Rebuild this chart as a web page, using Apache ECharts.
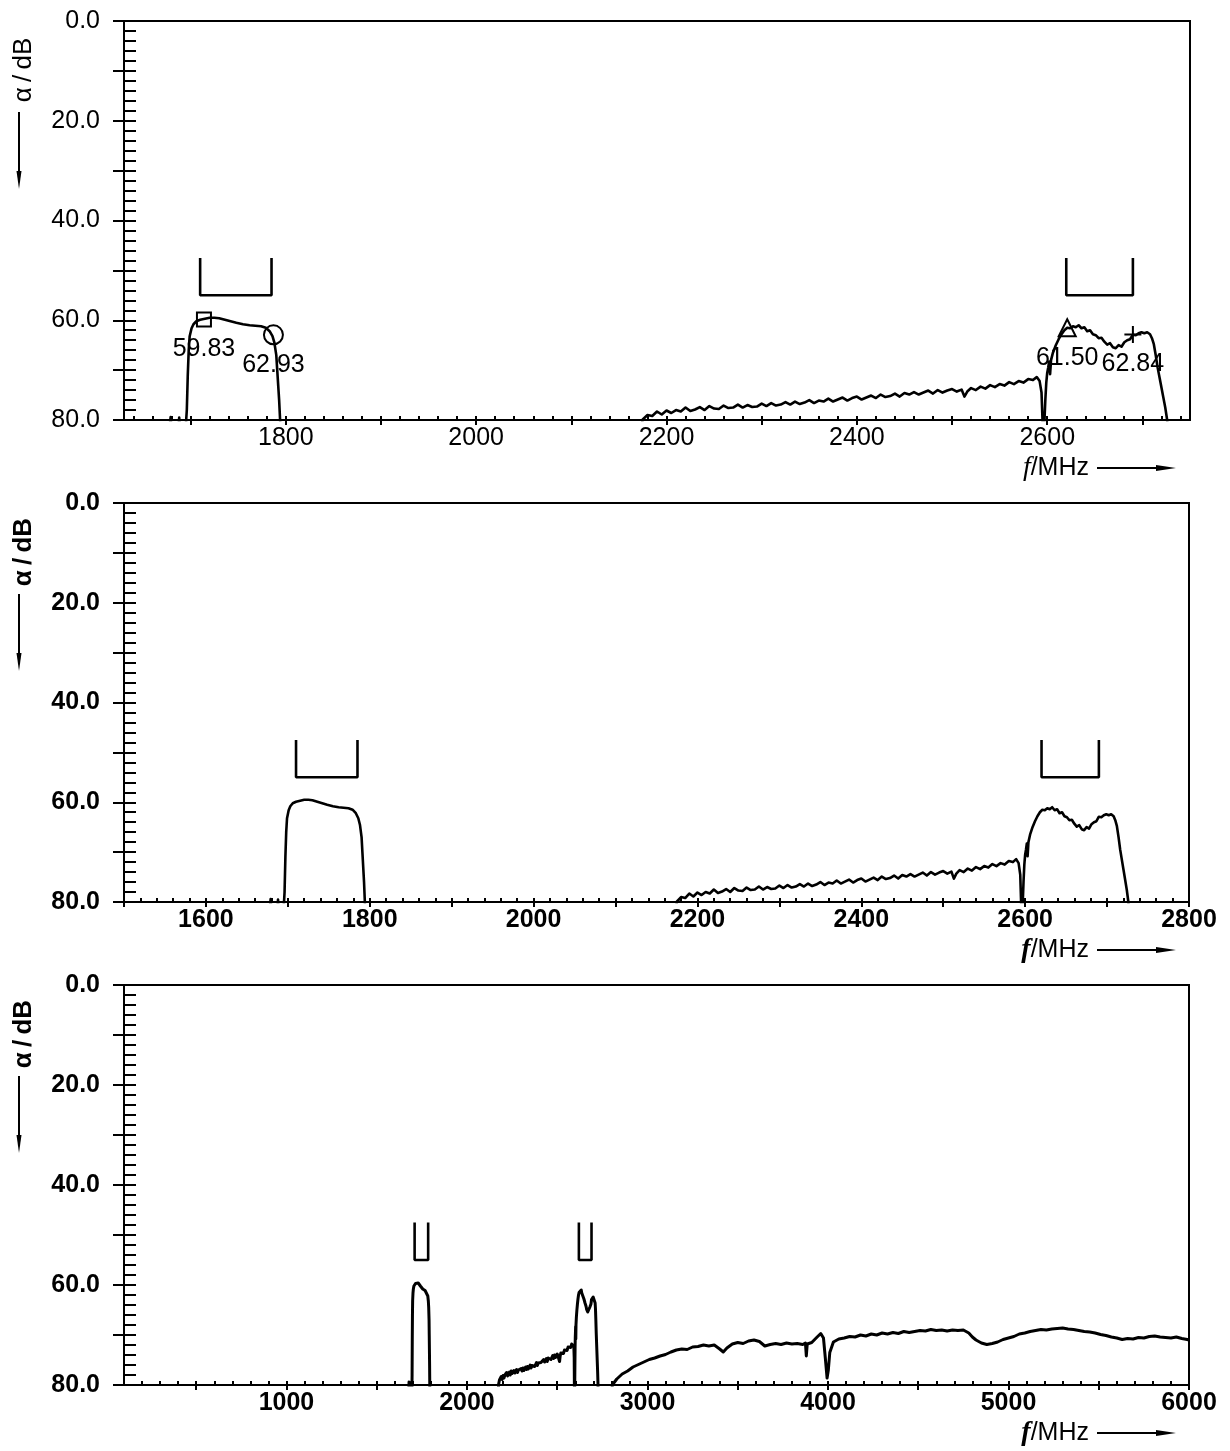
<!DOCTYPE html>
<html><head><meta charset="utf-8">
<script src="https://cdn.jsdelivr.net/npm/echarts@6/dist/echarts.min.js"></script>
<style>html,body{margin:0;padding:0;background:#fff}#c{width:1230px;height:1451px}</style>
</head><body><div id="c"></div>
<script>
// ---------- tick labels ----------
const yTickLabels = [0, 20, 40, 60, 80];
const topXLabels = [1800, 2000, 2200, 2400, 2600];
const midXLabels = [1600, 1800, 2000, 2200, 2400, 2600, 2800];
const botXLabels = [1000, 2000, 3000, 4000, 5000, 6000];

// ---------- measured trace (f / MHz, attenuation / dB) ----------
const dcsPass = [[1676,85],[1679,79.4],[1681,85],[1686,85],[1688,79.5],[1690,85],[1694,84],[1696,78],[1697,71],[1698,66],[1699,63.2],[1701,61.6],[1703,60.8],[1706,60.2],[1710,59.9],[1715,59.7],[1720,59.5],[1725,59.5],[1730,59.6],[1736,59.9],[1742,60.2],[1748,60.5],[1755,60.8],[1762,61.0],[1768,61.1],[1774,61.2],[1779,61.5],[1783,62.2],[1786,63.2],[1788,64.5],[1790,67],[1791,70],[1793,76],[1794,80],[1796,86]];

const spurRamp = [[2170,85],[2175,79.9],[2180,79.0],[2185,79.2],[2190,78.3],[2195,78.9],[2200,78.1],[2205,78.6],[2210,78.0],[2215,78.3],[2220,77.5],[2225,78.2],[2230,77.9],[2235,77.4],[2240,78.0],[2245,77.2],[2250,77.7],[2255,77.8],[2260,77.1],[2265,77.6],[2270,77.5],[2275,76.9],[2280,77.5],[2285,77.0],[2290,77.4],[2295,77.3],[2300,76.7],[2305,77.2],[2310,76.6],[2315,77.1],[2320,76.9],[2325,76.4],[2330,76.9],[2335,76.3],[2340,76.8],[2345,76.5],[2350,76.0],[2355,76.6],[2360,76.1],[2365,76.3],[2370,75.7],[2375,76.3],[2380,75.9],[2385,75.5],[2390,76.1],[2395,75.6],[2400,75.3],[2405,75.9],[2410,75.5],[2415,75.1],[2420,75.6],[2425,74.9],[2430,75.4],[2435,75.2],[2440,74.7],[2445,75.3],[2450,74.6],[2455,74.9],[2460,74.4],[2465,74.9],[2470,74.5],[2475,74.1],[2480,74.7],[2485,74.0],[2490,74.5],[2495,74.1],[2500,73.8],[2505,74.3],[2510,73.9],[2513,75.3],[2516,74.3],[2520,73.6],[2525,74.0],[2530,73.3],[2535,73.7],[2540,73.0],[2545,73.4],[2550,72.8],[2555,73.1],[2560,72.4],[2565,72.8],[2570,72.2],[2575,72.5],[2580,71.8],[2585,72.0],[2589,71.4],[2592,72.2],[2594,74.5]];

const ltePass = [[2596,85],[2598,76],[2599,72.5],[2600,70.5],[2601,69.5],[2602,68.3],[2603,70.8],[2604,68],[2606,66.5],[2609,65],[2612,63.8],[2615,62.8],[2618,62.0],[2621,61.5],[2624,61.6],[2627,61.2],[2630,61.4],[2633,61.0],[2636,61.6],[2639,61.4],[2642,62.2],[2645,62.0],[2648,62.8],[2651,63.0],[2654,63.6],[2657,63.5],[2660,64.3],[2663,64.9],[2666,64.6],[2669,65.4],[2672,65.6],[2675,65.0],[2678,65.3],[2681,64.4],[2684,64.0],[2687,63.8],[2690,62.9],[2693,63.0],[2696,62.6],[2699,62.4],[2702,62.6],[2705,62.4],[2708,62.8],[2710,63.6],[2712,64.8],[2714,67],[2716,69.5],[2718,71.5],[2720,73.5],[2722,75.5],[2724,77.5],[2726,80],[2728,86]];

const wideSweep = [[2800,85],[2805,80],[2830,78.8],[2860,77.8],[2890,77.2],[2920,76.4],[2950,75.9],[2980,75.4],[3010,74.9],[3040,74.6],[3070,74.2],[3100,73.9],[3130,73.4],[3160,73.0],[3190,72.8],[3220,72.9],[3250,72.4],[3280,72.3],[3310,72.0],[3340,72.2],[3370,72.0],[3400,72.8],[3420,73.4],[3440,72.6],[3470,71.8],[3500,71.5],[3530,71.7],[3560,71.2],[3590,71.0],[3620,71.3],[3650,72.2],[3680,71.9],[3710,71.7],[3740,71.9],[3770,71.6],[3800,71.8],[3830,71.7],[3860,71.9],[3875,71.6],[3880,74.2],[3885,71.8],[3910,71.5],[3940,70.4],[3960,69.7],[3975,70.6],[3985,74.5],[3995,78.6],[4002,77.0],[4010,73.5],[4030,71.4],[4060,70.8],[4090,70.6],[4120,70.3],[4150,70.4],[4180,70.0],[4210,70.2],[4240,69.8],[4270,70.0],[4300,69.6],[4330,69.8],[4360,69.5],[4390,69.7],[4420,69.3],[4450,69.5],[4480,69.3],[4510,69.1],[4540,69.2],[4570,68.9],[4600,69.1],[4630,69.0],[4660,69.2],[4690,69.0],[4720,69.1],[4750,69.0],[4780,69.6],[4800,70.4],[4820,71.0],[4850,71.6],[4880,71.9],[4910,71.7],[4940,71.4],[4970,70.9],[5000,70.6],[5030,70.3],[5060,69.8],[5090,69.6],[5120,69.3],[5150,69.1],[5180,68.9],[5210,69.0],[5240,68.8],[5270,68.7],[5300,68.6],[5330,68.8],[5360,68.9],[5390,69.1],[5420,69.3],[5450,69.4],[5480,69.6],[5510,69.9],[5540,70.1],[5570,70.4],[5600,70.6],[5630,70.9],[5660,70.7],[5690,70.8],[5720,70.5],[5750,70.6],[5780,70.3],[5810,70.2],[5840,70.4],[5870,70.5],[5900,70.6],[5930,70.4],[5960,70.7],[5990,70.9],[6000,71.0]];

// ---------- band brackets ----------
const bandDCS = [1710, 1785];
const bandLTE = [2620, 2690];
const bracketDb = [47.5, 55];

// ---------- markers ----------
const markerFreq = [1714, 1787, 2621, 2690];
const markerDb = [59.83, 62.93, 61.50, 62.84];
const markerLabels = ['59.83', '62.93', '61.50', '62.84'];
const markerSymbols = ['rect', 'circle', 'triangle', 'path://M0,5L10,5M5,0L5,10'];

// ---------- build ----------
function steps(a, b, s) { const r = []; for (let v = a; v <= b + 1e-9; v += s) r.push(v); return r; }
const FONT = 'Liberation Sans';
const panels = [
  { grid: {left:124, top:21, width:1066, height:399}, range:[1630,2750], major:steps(1700,2700,100), minor:steps(1640,2740,20), labels: topXLabels, bold:false, extra:false, markers:true },
  { grid: {left:124, top:503, width:1065, height:399}, range:[1500,2800], major:steps(1500,2800,100), minor:steps(1500,2800,20), labels: midXLabels, bold:true, extra:false, markers:false },
  { grid: {left:124, top:985, width:1065, height:400}, range:[100,6000], major:steps(500,6000,500), minor:steps(200,6000,100), labels: botXLabels, bold:true, extra:true, markers:false }
];

const grid = [], xAxis = [], yAxis = [], series = [], graphic = [];
const black = '#000';
panels.forEach((p, i) => {
  grid.push(Object.assign({ show:true, borderColor:black, borderWidth:2, backgroundColor:'transparent' }, p.grid));
  const fw = p.bold ? 'bold' : 'normal';
  xAxis.push({ type:'value', gridIndex:i, position:'bottom', min:p.range[0], max:p.range[1],
    axisLine:{show:true, onZero:false, lineStyle:{color:black, width:2}},
    axisTick:{show:true, inside:false, length:5, customValues:p.major, lineStyle:{color:black, width:2}},
    axisLabel:{show:true, customValues:p.labels, formatter:v => String(v), margin:6, color:black, fontSize:25, fontFamily:FONT, fontWeight:fw},
    splitLine:{show:false} });
  xAxis.push({ type:'value', gridIndex:i, position:'bottom', min:p.range[0], max:p.range[1],
    axisLine:{show:false, onZero:false},
    axisTick:{show:true, inside:true, length:4, customValues:p.minor, lineStyle:{color:black, width:2}},
    axisLabel:{show:false}, splitLine:{show:false} });
  yAxis.push({ type:'value', gridIndex:i, position:'left', inverse:true, min:0, max:80,
    axisLine:{show:true, onZero:false, lineStyle:{color:black, width:2}},
    axisTick:{show:true, inside:false, length:11, customValues:steps(0,80,10), lineStyle:{color:black, width:2}},
    axisLabel:{show:true, customValues:yTickLabels, formatter:v => Number(v).toFixed(1), margin:24, color:black, fontSize:25, fontFamily:FONT, fontWeight:fw},
    splitLine:{show:false} });
  yAxis.push({ type:'value', gridIndex:i, position:'left', inverse:true, min:0, max:80,
    axisLine:{show:false, onZero:false},
    axisTick:{show:true, inside:true, length:12, customValues:steps(0,80,2), lineStyle:{color:black, width:2}},
    axisLabel:{show:false}, splitLine:{show:false} });

  const trace = [].concat(dcsPass, spurRamp, ltePass, p.extra ? wideSweep : []);
  series.push({ type:'line', xAxisIndex:2*i, yAxisIndex:2*i, data:trace, showSymbol:false, clip:true,
    lineStyle:{color:black, width: p.extra ? 3 : 2.6, join:'round'}, silent:true, z:3 });
  [bandDCS, bandLTE].forEach(b => {
    series.push({ type:'line', xAxisIndex:2*i, yAxisIndex:2*i, showSymbol:false, clip:true,
      data:[[b[0],bracketDb[0]],[b[0],bracketDb[1]],[b[1],bracketDb[1]],[b[1],bracketDb[0]]],
      lineStyle:{color:black, width:2.6}, silent:true, z:3 });
  });
  if (p.markers) {
    series.push({ type:'scatter', xAxisIndex:2*i, yAxisIndex:2*i, symbolSize:16, z:5,
      itemStyle:{color:'rgba(0,0,0,0)', borderColor:black, borderWidth:2, opacity:1},
      label:{show:true, position:'inside', offset:[0,30], color:black, fontSize:25, fontFamily:FONT},
      data: markerFreq.map((f,k) => ({ value:[f, markerDb[k]], symbol:markerSymbols[k],
        symbolSize: k===0 ? 14 : (k===1 ? 19 : 17),
        label:{ formatter: markerLabels[k] } })) });
  }

  // axis names
  const top = p.grid.top, axisY = p.grid.top + p.grid.height;
  graphic.push({ type:'text', x:24, y:top+49, rotation:Math.PI/2, silent:true,
    style:{ text:'α\u2009/\u2009dB', fontSize:26, fontFamily:FONT, fontWeight:fw, fill:black, align:'center', verticalAlign:'middle' } });
  graphic.push({ type:'line', silent:true, shape:{x1:19, y1:top+91, x2:19, y2:top+155}, style:{stroke:black, lineWidth:2} });
  graphic.push({ type:'polygon', silent:true, shape:{points:[[16.5,top+150],[21.5,top+150],[19,top+168]]}, style:{fill:black} });
  graphic.push({ type:'text', x:1089, y:axisY+48, silent:true,
    style:{ text:'{f|f}/MHz', fontSize:25, fontFamily:FONT, fill:black, align:'right', verticalAlign:'middle',
      rich:{ f:{ fontSize:28, fontFamily:'Liberation Serif', fontStyle:'italic', fontWeight: p.bold ? 'bold' : 'normal', fill:black } } } });
  graphic.push({ type:'line', silent:true, shape:{x1:1097, y1:axisY+48, x2:1162, y2:axisY+48}, style:{stroke:black, lineWidth:2} });
  graphic.push({ type:'polygon', silent:true, shape:{points:[[1156,axisY+45],[1156,axisY+51],[1176,axisY+48]]}, style:{fill:black} });
});

const chart = echarts.init(document.getElementById('c'), null, {renderer:'canvas'});
chart.setOption({ animation:false, backgroundColor:'#fff', textStyle:{fontFamily:FONT},
  grid, xAxis, yAxis, series, graphic });
</script></body></html>
